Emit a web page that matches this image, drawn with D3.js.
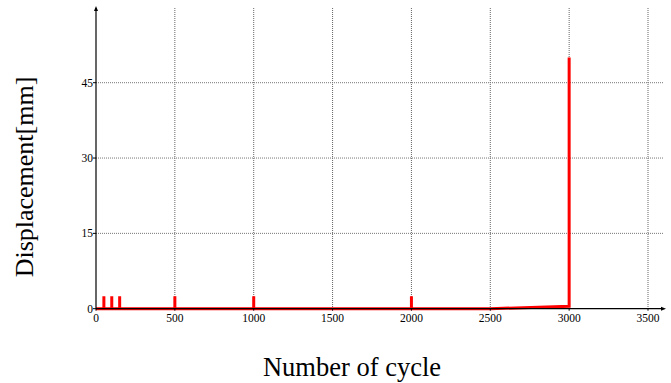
<!DOCTYPE html>
<html>
<head>
<meta charset="utf-8">
<script src="https://cdn.jsdelivr.net/npm/d3@7"></script>
<style>
  body { margin: 0; background: #fff; }
  text { font-family: "Liberation Serif", "Times New Roman", serif; fill: #000; }
</style>
</head>
<body>
<div id="chart"></div>
<script>
// measured series (cycles vs displacement)
const cycles = [0, 50, 50, 50, 100, 100, 100, 150, 150, 150, 500, 500, 500, 1000, 1000, 1000, 2000, 2000, 2000, 2500, 3000, 3000];
const displacement = [0, 0, 2.5, 0, 0, 2.5, 0, 0, 2.5, 0, 0, 2.5, 0, 0, 2.5, 0, 0, 2.5, 0, 0, 0.5, 50];
const xTicks = [0, 500, 1000, 1500, 2000, 2500, 3000, 3500];
const yTicks = [0, 15, 30, 45];

const width = 671, height = 383;

const svg = d3.select("#chart").append("svg")
  .attr("width", width).attr("height", height);

const x = d3.scaleLinear().domain([0, 3500]).range([96, 648]);
const y = d3.scaleLinear().domain([0, 45]).range([308.7, 82.7]);
const xEnd = 663, yEnd = 8;

// grid
const grid = svg.append("g");
grid.selectAll(".vg").data(xTicks.slice(1))
  .join("line")
  .attr("x1", d => x(d)).attr("x2", d => x(d))
  .attr("y1", yEnd).attr("y2", y(0))
  .attr("stroke", "#666").attr("stroke-width", 1).attr("stroke-dasharray", "1,1");
grid.selectAll(".hg").data(yTicks.slice(1))
  .join("line")
  .attr("x1", x(0)).attr("x2", xEnd)
  .attr("y1", d => y(d)).attr("y2", d => y(d))
  .attr("stroke", "#777").attr("stroke-width", 1).attr("stroke-dasharray", "1,1");

// data line
const line = d3.line().x((d, i) => x(cycles[i])).y(d => y(d));
svg.append("path")
  .datum(displacement)
  .attr("d", line)
  .attr("fill", "none")
  .attr("stroke", "#ff0000")
  .attr("stroke-width", 3);

// axes
svg.append("line").attr("x1", x(0)).attr("x2", xEnd).attr("y1", y(0)).attr("y2", y(0))
  .attr("stroke", "#000").attr("stroke-width", 1.2);
svg.append("line").attr("x1", x(0)).attr("x2", x(0)).attr("y1", y(0)).attr("y2", yEnd)
  .attr("stroke", "#000").attr("stroke-width", 1.2);
svg.append("path").attr("d", `M${xEnd + 3},${y(0)} L${xEnd - 2},${y(0) - 2} L${xEnd - 2},${y(0) + 2} Z`).attr("fill", "#000");
svg.append("path").attr("d", `M${x(0)},${yEnd - 2} L${x(0) - 2},${yEnd + 3} L${x(0) + 2},${yEnd + 3} Z`).attr("fill", "#000");

svg.selectAll(".xt").data(xTicks)
  .join("line")
  .attr("x1", d => x(d)).attr("x2", d => x(d))
  .attr("y1", y(0)).attr("y2", y(0) + 2)
  .attr("stroke", "#000");
svg.selectAll(".xl").data(xTicks)
  .join("text")
  .attr("x", d => x(d)).attr("y", y(0) + 13)
  .attr("text-anchor", "middle")
  .attr("font-size", 11.5)
  .text(d => d);

svg.selectAll(".yt").data(yTicks)
  .join("line")
  .attr("x1", x(0) - 3).attr("x2", x(0))
  .attr("y1", d => y(d)).attr("y2", d => y(d))
  .attr("stroke", "#000");
svg.selectAll(".yl").data(yTicks)
  .join("text")
  .attr("x", x(0) - 3).attr("y", d => y(d) + 4)
  .attr("text-anchor", "end")
  .attr("font-size", 11.5)
  .text(d => d);

svg.append("text")
  .attr("x", 352).attr("y", 376)
  .attr("text-anchor", "middle")
  .attr("font-size", 26.5)
  .text("Number of cycle");

svg.append("text")
  .attr("transform", "translate(33,177) rotate(-90)")
  .attr("text-anchor", "middle")
  .attr("font-size", 26)
  .text("Displacement[mm]");
</script>
</body>
</html>
